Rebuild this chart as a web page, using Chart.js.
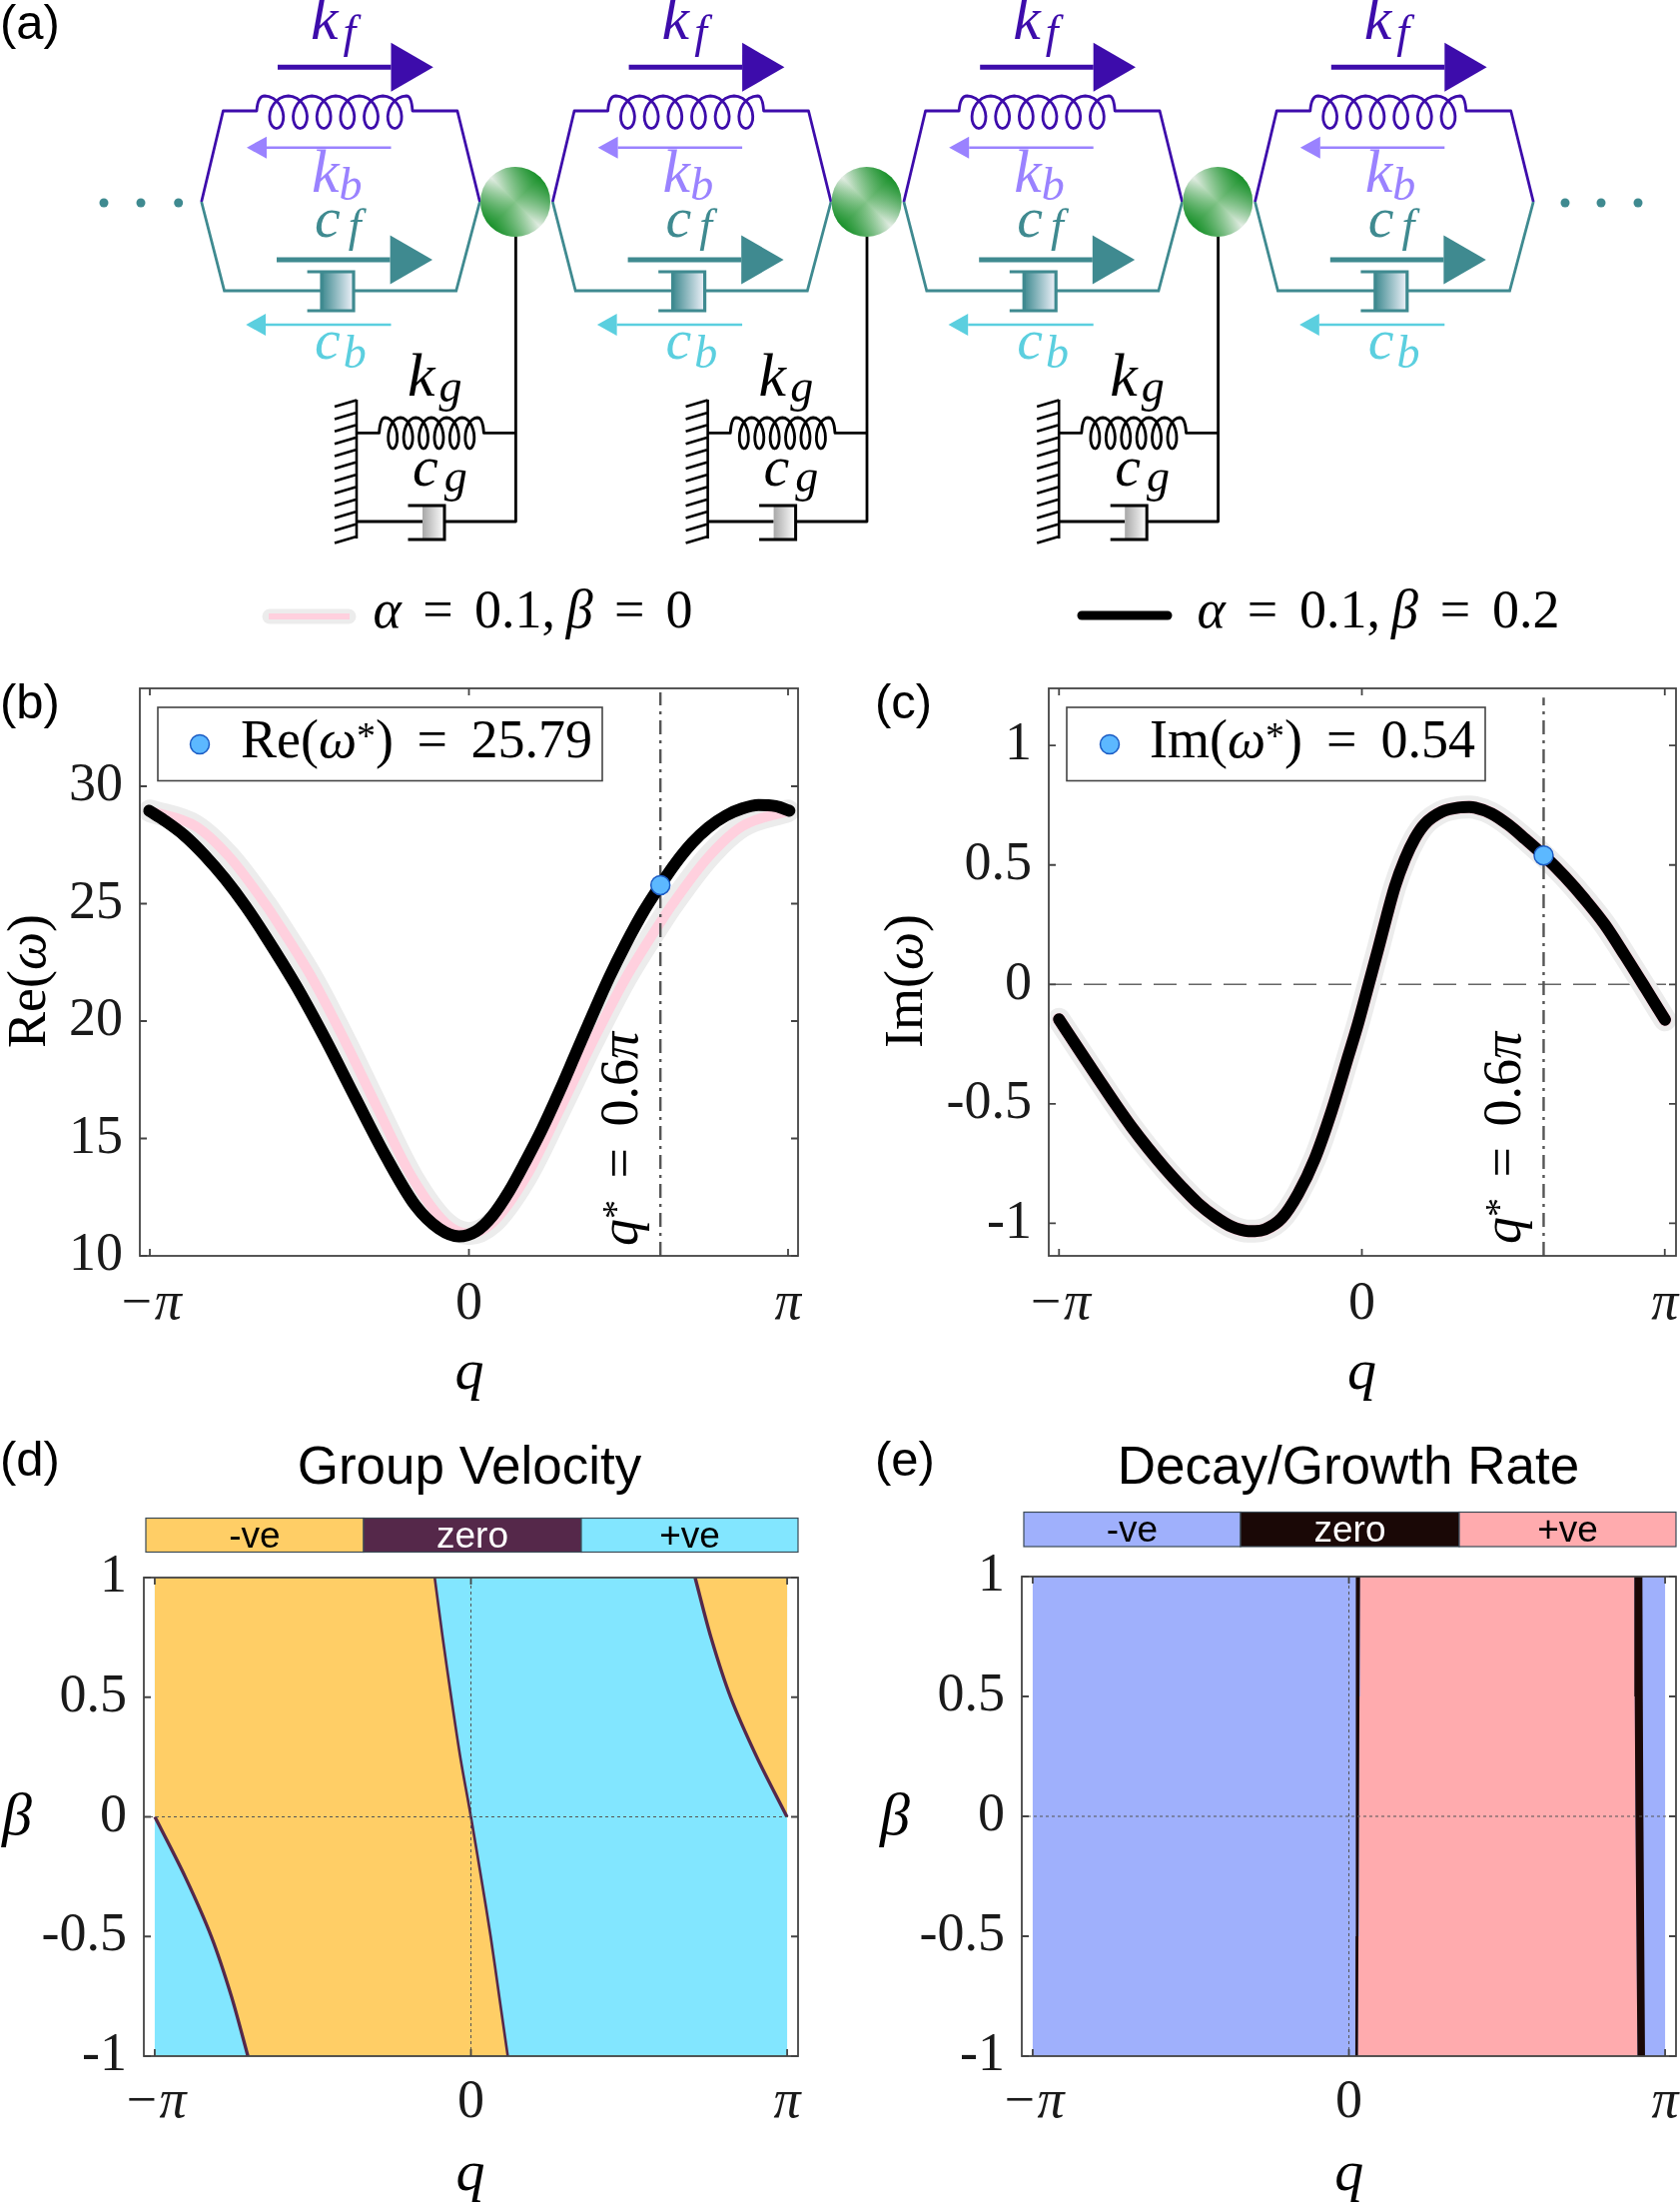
<!DOCTYPE html>
<html>
<head>
<meta charset="utf-8">
<title>Dispersion of a non-reciprocal chain</title>
<script src="https://cdn.jsdelivr.net/npm/chart.js@4/dist/chart.umd.js"></script>
<style>
  html, body { margin: 0; padding: 0; background: #fff; }
  #page { position: relative; width: 1682px; height: 2204px; overflow: hidden; }
  #page canvas { position: absolute; }
  #overlay { position: absolute; left: 0; top: 0; }
  .serif { font-family: "Liberation Serif", serif; }
  .sans { font-family: "Liberation Sans", sans-serif; }
  .it { font-style: italic; }
</style>
</head>
<body>
<div id="page"><svg id="overlay" width="1682" height="2204" xmlns="http://www.w3.org/2000/svg"></svg></div>
<script>
// values
const PI = 3.14159;
const qStar = 1.885;
const reStar = 25.79;
const imStar = 0.54;

const qTicks = [-PI, 0, PI];
const qTickLabels = ['\u2212\u03c0', '0', '\u03c0'];
const reTicks = [10, 15, 20, 25, 30];
const imTicks = [-1, -0.5, 0, 0.5, 1];
const betaTicks = [-1, -0.5, 0, 0.5, 1];

// Re(w), alpha = 0.1, beta = 0.2
const qRe = [-3.148, -3.0, -2.8, -2.6, -2.4, -2.2, -2.0, -1.705, -1.41, -1.115, -0.82, -0.525, -0.295, -0.098, 0.07, 0.23, 0.395, 0.56, 0.72, 0.89, 1.05, 1.215, 1.38, 1.54, 1.71, 1.885, 2.03, 2.2, 2.36, 2.53, 2.69, 2.85, 3.02, 3.155];
const reBlack = [28.96, 28.55, 27.9, 27.05, 26.05, 24.9, 23.6, 21.53, 19.2, 16.7, 14.25, 12.13, 11.16, 10.83, 11.05, 11.7, 12.75, 14.05, 15.4, 17.0, 18.6, 20.25, 21.85, 23.25, 24.6, 25.79, 26.7, 27.6, 28.25, 28.75, 29.05, 29.2, 29.15, 28.96];

// Re(w), alpha = 0.1, beta = 0
const qRePink = [-3.14, -2.69, -2.36, -2.0, -1.885, -1.54, -1.215, -0.89, -0.56, -0.23, 0, 0.23, 0.56, 0.89, 1.215, 1.54, 1.885, 2.0, 2.36, 2.69, 3.14];
const rePink = [28.95, 28.3, 27.0, 24.95, 24.2, 21.8, 19.1, 16.2, 13.35, 11.4, 10.95, 11.4, 13.35, 16.2, 19.1, 21.8, 24.2, 24.95, 27.0, 28.3, 28.95];

// Im(w), both curves lie on top of each other
const qIm = [-3.142, -2.907, -2.735, -2.56, -2.39, -2.215, -2.043, -1.87, -1.70, -1.524, -1.35, -1.178, -1.11, -1.005, -0.833, -0.66, -0.487, -0.314, -0.141, -0.037, 0.07, 0.17, 0.257, 0.343, 0.447, 0.55, 0.654, 0.827, 1.0, 1.114, 1.173, 1.345, 1.52, 1.69, 1.885, 2.107, 2.314, 2.52, 2.73, 2.94, 3.144];
const imValues = [-0.146, -0.29, -0.394, -0.499, -0.596, -0.687, -0.77, -0.847, -0.916, -0.972, -1.014, -1.032, -1.032, -1.025, -0.979, -0.875, -0.728, -0.53, -0.30, -0.16, 0, 0.15, 0.285, 0.41, 0.525, 0.612, 0.672, 0.722, 0.74, 0.742, 0.74, 0.715, 0.668, 0.61, 0.54, 0.45, 0.355, 0.25, 0.12, -0.015, -0.148];

// group velocity zero lines
const betaCentre = [-1, -0.75, -0.5, -0.25, 0, 0.25, 0.5, 0.75, 1];
const qCentreZero = [0.366, 0.281, 0.196, 0.10, 0, -0.106, -0.196, -0.281, -0.36];
const betaLower = [-1, -0.75, -0.5, -0.25, 0];
const qLowerZero = [-2.216, -2.38, -2.58, -2.84, -3.14];
const betaUpper = [0, 0.25, 0.5, 0.75, 1];
const qUpperZero = [3.14, 2.84, 2.58, 2.385, 2.227];

// decay/growth zero bands
const betaRate = [-1, -0.5, 0, 0.5, 1];
const qBandALeft = [0.064, 0.066, 0.069, 0.069, 0.069];
const qBandARight = [0.09, 0.095, 0.10, 0.105, 0.111];
const qBandBLeft = [2.867, 2.857, 2.847, 2.84, 2.836];
const qBandBRight = [2.942, 2.934, 2.926, 2.92, 2.916];

const velocityBar = ['-ve', 'zero', '+ve'];
const rateBar = ['-ve', 'zero', '+ve'];

const SERIF = '"Liberation Serif", serif';
const TICK_COLOR = '#1a1a1a';

const pts = (xs, ys) => xs.map((x, i) => ({ x: x, y: ys[i] }));
const rev = (a) => a.slice().reverse();

// boxed axes with inward ticks on all four sides
const framePlugin = {
  id: 'frame',
  afterDatasetsDraw(chart) {
    const { ctx, chartArea: a, scales } = chart;
    const len = 7;
    ctx.save();
    ctx.strokeStyle = '#444';
    ctx.lineWidth = 1.8;
    ctx.strokeRect(a.left, a.top, a.right - a.left, a.bottom - a.top);
    ctx.beginPath();
    scales.x.ticks.forEach((t) => {
      const px = scales.x.getPixelForValue(t.value);
      ctx.moveTo(px, a.bottom); ctx.lineTo(px, a.bottom - len);
      ctx.moveTo(px, a.top); ctx.lineTo(px, a.top + len);
    });
    scales.y.ticks.forEach((t) => {
      const py = scales.y.getPixelForValue(t.value);
      ctx.moveTo(a.left, py); ctx.lineTo(a.left + len, py);
      ctx.moveTo(a.right, py); ctx.lineTo(a.right - len, py);
    });
    ctx.stroke();
    ctx.restore();
  }
};

// the plot area has to land on box, so drop the room chart.js keeps for edge labels
function fixScale(s, side, size) {
  s[side] = size;
  s.paddingLeft = s.paddingRight = s.paddingTop = s.paddingBottom = 0;
}

function makePanel(box, xRange, yRange, yTicks, xLabelPad, datasets) {
  const marginL = 130, marginT = 40, marginR = 4, marginB = 80;
  const canvas = document.createElement('canvas');
  canvas.width = box.right - box.left + marginL + marginR;
  canvas.height = box.bottom - box.top + marginT + marginB;
  canvas.style.left = (box.left - marginL) + 'px';
  canvas.style.top = (box.top - marginT) + 'px';
  canvas.style.width = canvas.width + 'px';
  canvas.style.height = canvas.height + 'px';
  document.getElementById('page').insertBefore(canvas, document.getElementById('overlay'));

  // list order is bottom to top
  datasets.forEach((d, i) => {
    d.order = datasets.length - i;
    d.pointRadius = d.pointRadius || 0;
  });

  return new Chart(canvas.getContext('2d'), {
    type: 'line',
    data: { datasets: datasets },
    plugins: [framePlugin],
    options: {
      responsive: false,
      animation: false,
      layout: { autoPadding: false, padding: { top: marginT, right: marginR, left: 0, bottom: 0 } },
      plugins: { legend: { display: false }, tooltip: { enabled: false } },
      scales: {
        x: {
          type: 'linear',
          min: xRange[0],
          max: xRange[1],
          grid: { display: false },
          border: { display: false },
          afterBuildTicks: (s) => { s.ticks = qTicks.map((v) => ({ value: v })); },
          afterFit: (s) => fixScale(s, 'height', marginB),
          ticks: {
            autoSkip: false,
            maxRotation: 0,
            padding: xLabelPad,
            color: TICK_COLOR,
            callback: (v) => qTickLabels[qTicks.indexOf(v)],
            font: (c) => ({ family: SERIF, size: 54, style: c.tick && c.tick.value !== 0 ? 'italic' : 'normal' })
          }
        },
        y: {
          type: 'linear',
          min: yRange[0],
          max: yRange[1],
          grid: { display: false },
          border: { display: false },
          afterBuildTicks: (s) => { s.ticks = yTicks.map((v) => ({ value: v })); },
          afterFit: (s) => fixScale(s, 'width', marginL),
          ticks: {
            autoSkip: false,
            padding: 9,
            color: TICK_COLOR,
            callback: (v) => String(v),
            font: { family: SERIF, size: 54 }
          }
        }
      }
    }
  });
}

const lineSet = (data, color, width, extra) => Object.assign({
  data: data, borderColor: color, borderWidth: width, fill: false,
  borderCapStyle: 'round', borderJoinStyle: 'round'
}, extra || {});
const smooth = { cubicInterpolationMode: 'monotone' };
const areaSet = (data, color) => ({ data: data, fill: 'shape', backgroundColor: color, borderWidth: 0, borderColor: color });
const marker = (x, y) => ({
  data: [{ x: x, y: y }], showLine: false, pointRadius: 9.5,
  pointBackgroundColor: '#5cb8ff', pointBorderColor: '#1c5cc4', pointBorderWidth: 1.5
});

const boxB = { left: 140, right: 799, top: 689, bottom: 1257 };
const boxC = { left: 1050, right: 1678, top: 689, bottom: 1257 };
const boxD = { left: 144, right: 799, top: 1579, bottom: 2058 };
const boxE = { left: 1023, right: 1678, top: 1578, bottom: 2058 };

// (b)
makePanel(boxB, [-3.24, 3.24], [10, 34.17], reTicks, 8, [
  lineSet(pts(qRePink, rePink), '#ececec', 23, smooth),
  lineSet(pts(qRePink, rePink), '#ffd0de', 10, smooth),
  lineSet([{ x: qStar, y: 10 }, { x: qStar, y: 34 }], '#555', 2.4, { borderDash: [14, 6, 3, 6], borderCapStyle: 'butt' }),
  lineSet(pts(qRe, reBlack), '#000', 12, smooth),
  marker(qStar, reStar)
]);

// (c)
makePanel(boxC, [-3.248, 3.258], [-1.136, 1.239], imTicks, 8, [
  lineSet([{ x: -3.248, y: 0 }, { x: 3.258, y: 0 }], '#666', 1.6, { borderDash: [23, 12], borderCapStyle: 'butt' }),
  lineSet(pts(qIm, imValues), '#ececec', 23, smooth),
  lineSet(pts(qIm, imValues), '#ffd0de', 13, smooth),
  lineSet([{ x: qStar, y: -1.136 }, { x: qStar, y: 1.2 }], '#555', 2.4, { borderDash: [14, 6, 3, 6], borderCapStyle: 'butt' }),
  lineSet(pts(qIm, imValues), '#000', 12, smooth),
  marker(qStar, imStar)
]);

// (d) regions are drawn cyan, then orange on top
const orangeMain = pts(qLowerZero, betaLower)
  .concat([{ x: -PI, y: 1 }])
  .concat(pts(rev(qCentreZero), rev(betaCentre)));
const orangeUpper = pts(qUpperZero, betaUpper).concat([{ x: PI, y: 1 }]);
const cyanAll = [{ x: -PI, y: -1 }, { x: -PI, y: 1 }, { x: PI, y: 1 }, { x: PI, y: -1 }];

makePanel(boxD, [-3.25, 3.25], [-1, 1], betaTicks, 6, [
  areaSet(cyanAll, '#82e6ff'),
  areaSet(orangeMain, '#ffce66'),
  areaSet(orangeUpper, '#ffce66'),
  lineSet(pts(qCentreZero, betaCentre), '#55284a', 2.6, { tension: 0.3, borderCapStyle: 'butt' }),
  lineSet(pts(qLowerZero, betaLower), '#55284a', 3.4, { tension: 0.3, borderCapStyle: 'butt' }),
  lineSet(pts(qUpperZero, betaUpper), '#55284a', 3.4, { tension: 0.3, borderCapStyle: 'butt' }),
  lineSet([{ x: 0, y: -1 }, { x: 0, y: 1 }], '#555', 1, { borderDash: [3, 3], borderCapStyle: 'butt' }),
  lineSet([{ x: -3.25, y: 0 }, { x: 3.25, y: 0 }], '#555', 1, { borderDash: [3, 3], borderCapStyle: 'butt' })
]);

// (e)
const blueAll = cyanAll;
const pinkMiddle = pts(qBandARight, betaRate).concat(pts(rev(qBandBLeft), rev(betaRate)));
const bandA = pts(qBandALeft, betaRate).concat(pts(rev(qBandARight), rev(betaRate)));
const bandB = pts(qBandBLeft, betaRate).concat(pts(rev(qBandBRight), rev(betaRate)));

makePanel(boxE, [-3.25, 3.25], [-1, 1], betaTicks, 6, [
  areaSet(blueAll, '#9fb0fc'),
  areaSet(pinkMiddle, '#ffabae'),
  areaSet(bandA, '#1a0806'),
  areaSet(bandB, '#1a0806'),
  lineSet([{ x: 0, y: -1 }, { x: 0, y: 1 }], '#555', 1, { borderDash: [3, 3], borderCapStyle: 'butt' }),
  lineSet([{ x: -3.25, y: 0 }, { x: 3.25, y: 0 }], '#555', 1, { borderDash: [3, 3], borderCapStyle: 'butt' })
]);

// ---- overlay: schematic and the math labels
function springPath(x0, x1, first, last, coils, yLine, yTop, yBot) {
  const yc = (yTop + yBot) / 2, ry = (yBot - yTop) / 2;
  const pitch = (last - first) / coils;
  const rx = pitch * 0.52;
  let d = 'L' + x0 + ' ' + yLine + ' Q' + (x0 + 1) + ' ' + yTop + ' ' + first + ' ' + yTop;
  const steps = coils * 24;
  for (let i = 0; i <= steps; i++) {
    const t = i / steps * coils * 2 * Math.PI;
    const x = first + pitch * t / (2 * Math.PI) + rx * Math.sin(t);
    const y = yc - ry * Math.cos(t);
    d += ' L' + x.toFixed(1) + ' ' + y.toFixed(1);
  }
  d += ' Q' + (x1 - 1) + ' ' + yTop + ' ' + x1 + ' ' + yLine;
  return d;
}

function arrow(x0, tip, base, y, half, width, color) {
  return '<line x1="' + x0 + '" y1="' + y + '" x2="' + base + '" y2="' + y + '" stroke="' + color + '" stroke-width="' + width + '"/>' +
    '<polygon points="' + base + ',' + (y - half) + ' ' + tip + ',' + y + ' ' + base + ',' + (y + half) + '" fill="' + color + '"/>';
}

function symbol(x, y, letter, sub, color, size, subSize, subDx, subDy) {
  return '<text class="serif it" x="' + x + '" y="' + y + '" font-size="' + size + '" fill="' + color + '">' + letter +
    '<tspan dx="' + subDx + '" dy="' + subDy + '" font-size="' + subSize + '">' + sub + '</tspan></text>';
}

const FWD = '#3d0cab', BACK = '#9a82ff', DAMP = '#3f8a90', DAMPB = '#5bcfdf';
let svg = '<defs>' +
  '<linearGradient id="ballA" x1="0.1" y1="0.1" x2="0.9" y2="0.9"><stop offset="0" stop-color="#f4f4f4"/><stop offset="0.5" stop-color="#85c58b"/><stop offset="1" stop-color="#f4f4f4"/></linearGradient>' +
  '<linearGradient id="ballB" x1="0.1" y1="0.9" x2="0.9" y2="0.1"><stop offset="0" stop-color="#0b8a1e"/><stop offset="0.5" stop-color="#0b8a1e" stop-opacity="0"/><stop offset="1" stop-color="#0b8a1e"/></linearGradient>' +
  '<linearGradient id="pistonA"><stop offset="0" stop-color="#3f8a90"/><stop offset="1" stop-color="#f0f2fa"/></linearGradient>' +
  '<linearGradient id="pistonB"><stop offset="0" stop-color="#a8a8a8"/><stop offset="1" stop-color="#fff"/></linearGradient>' +
  '</defs>';

const unitStep = 351.6;
for (let u = 0; u < 4; u++) {
  const dx = u * unitStep;
  svg += '<g transform="translate(' + dx + ' 0)">';
  // spring branch
  svg += '<path fill="none" stroke="' + FWD + '" stroke-width="2.8" stroke-linejoin="round" d="M201.7 202 L223.4 111 ' +
    springPath(257, 413, 265, 407, 6, 111, 96, 128.5) + ' L457.9 111 L480.4 202"/>';
  // damper branch
  svg += '<path fill="none" stroke="' + DAMP + '" stroke-width="2.8" d="M201.7 202 L224.6 291 L322 291 M354 291 L456.7 291 L480.4 202"/>';
  svg += '<rect x="322" y="272" width="32" height="39" fill="url(#pistonA)"/>';
  svg += '<path fill="none" stroke="' + DAMP + '" stroke-width="3.2" d="M307.6 272 L354 272 L354 311 L307.6 311 M322 272 L322 311"/>';
  // arrows
  svg += arrow(278, 433.8, 391.5, 67.3, 24.5, 5, FWD);
  svg += arrow(391.5, 247, 267, 147.7, 11, 2.4, BACK);
  svg += arrow(277, 433, 390.6, 260, 24.5, 5, DAMP);
  svg += arrow(391.5, 246.3, 266, 325, 11, 2.4, DAMPB);
  // labels
  svg += symbol(311, 39, 'k', 'f', FWD, 62, 46, 5, 8);
  svg += symbol(312, 192, 'k', 'b', BACK, 62, 46, 0, 8);
  svg += symbol(315, 237, 'c', 'f', DAMP, 58, 46, 8, 4);
  svg += symbol(315, 359, 'c', 'b', DAMPB, 58, 46, 3, 9);
  if (u < 3) {
    // ground spring and damper
    svg += '<path fill="none" stroke="#000" stroke-width="2.8" stroke-linejoin="round" d="M516.4 236 L516.4 522 L445 522 M423 522 L357 522 M357 433.3 ' +
      springPath(379.6, 484.4, 385.5, 478, 6, 433.3, 418, 449) + ' L516.4 433.3"/>';
    svg += '<rect x="423" y="506" width="22" height="34" fill="url(#pistonB)"/>';
    svg += '<path fill="none" stroke="#000" stroke-width="3" d="M408.5 506 L445 506 L445 540 L408.5 540"/>';
    let hatch = 'M357 400 L357 539';
    for (let h = 0; h < 12; h++) {
      const y = 400.5 + h * 12.4;
      hatch += ' M357 ' + y + ' L335 ' + (y + 6.5);
    }
    svg += '<path fill="none" stroke="#000" stroke-width="2.6" d="' + hatch + '"/>';
    svg += symbol(408, 396, 'k', 'g', '#000', 62, 46, 4, 6);
    svg += symbol(413, 485.5, 'c', 'g', '#000', 58, 46, 6, 6);
    // mass
    svg += '<circle cx="516" cy="202" r="35" fill="url(#ballA)"/><circle cx="516" cy="202" r="35" fill="url(#ballB)"/>';
  }
  svg += '</g>';
}
[104, 141, 178.7, 1567, 1603, 1640].forEach((x) => {
  svg += '<circle cx="' + x + '" cy="203" r="4.5" fill="' + DAMP + '"/>';
});

// data-len: spaces are stretched until the text has that length
const fitted = (attrs, len, inner) => '<text class="serif fit" data-len="' + len + '" ' + attrs + '>' + inner + '</text>';

// legend strip above the plots
svg += '<line x1="270" y1="617" x2="349" y2="617" stroke="#ececec" stroke-width="15" stroke-linecap="round"/>';
svg += '<line x1="269" y1="617" x2="350" y2="617" stroke="#ffd0de" stroke-width="6"/>';
svg += fitted('x="373.6" y="628" font-size="54"', 320, '<tspan class="it">\u03b1</tspan> = 0.1,\u2009<tspan class="it">\u03b2</tspan> = 0');
svg += '<line x1="1083" y1="616" x2="1169" y2="616" stroke="#000" stroke-width="9" stroke-linecap="round"/>';
svg += fitted('x="1198.5" y="628" font-size="54"', 363, '<tspan class="it">\u03b1</tspan> = 0.1,\u2009<tspan class="it">\u03b2</tspan> = 0.2');

// boxed legends inside (b) and (c)
function starLegend(left, right, markerX, textX, textLen, head, value) {
  return '<rect x="' + left + '" y="708" width="' + (right - left) + '" height="73.5" fill="#fff" stroke="#444" stroke-width="1.6"/>' +
    '<circle cx="' + markerX + '" cy="745" r="9.5" fill="#5cb8ff" stroke="#1c5cc4" stroke-width="1.5"/>' +
    fitted('x="' + textX + '" y="758" font-size="54"', textLen, head + '(<tspan class="it">\u03c9</tspan><tspan dy="-9" font-size="38">*</tspan><tspan dy="9">)</tspan> = ' + value);
}
svg += starLegend(158, 603, 200, 241, 352, 'Re', '25.79');
svg += starLegend(1068, 1487, 1111, 1151, 326, 'Im', '0.54');

// rotated labels
function rotated(x, y, inner, len) {
  return fitted('transform="rotate(-90 ' + x + ' ' + y + ')" x="' + x + '" y="' + y + '" font-size="54"', len, inner);
}
const omegaLabel = (head) => head + '(<tspan class="it">\u03c9</tspan>)';
svg += rotated(45, 1049, omegaLabel('Re'), 146);
svg += rotated(923, 1049, omegaLabel('Im'), 146);
const qStarLabel = '<tspan class="it">q</tspan><tspan dy="-9" font-size="38">*</tspan><tspan dy="9"> = 0.6</tspan><tspan class="it">\u03c0</tspan>';
svg += rotated(638, 1247, qStarLabel, 214);
svg += rotated(1522, 1245, qStarLabel, 212);

// axis letters
[[470, 1390], [1363.6, 1390], [471, 2192], [1350.7, 2192]].forEach((p) => {
  svg += '<text class="serif it" x="' + p[0] + '" y="' + p[1] + '" font-size="58" text-anchor="middle">q</text>';
});
svg += '<text class="serif it" x="2" y="1836" font-size="60">\u03b2</text>';
svg += '<text class="serif it" x="881" y="1836" font-size="60">\u03b2</text>';

// panel letters and titles
[['(a)', 0, 39], ['(b)', 0, 719], ['(c)', 876, 719], ['(d)', 0, 1477], ['(e)', 876, 1477]].forEach((p) => {
  svg += '<text class="sans" x="' + p[1] + '" y="' + p[2] + '" font-size="49">' + p[0] + '</text>';
});
svg += '<text class="sans" x="470" y="1485" font-size="53" text-anchor="middle">Group Velocity</text>';
svg += '<text class="sans" x="1350" y="1485" font-size="53" text-anchor="middle">Decay/Growth Rate</text>';

// category strips above (d) and (e)
function strip(left, split1, split2, right, top, bottom, colors, labels, textColors, baseline) {
  const xs = [left, split1, split2, right];
  let s = '';
  for (let i = 0; i < 3; i++) {
    s += '<rect x="' + xs[i] + '" y="' + top + '" width="' + (xs[i + 1] - xs[i]) + '" height="' + (bottom - top) + '" fill="' + colors[i] + '" stroke="#3a4a55" stroke-width="1.2"/>';
    s += '<text class="sans" x="' + (xs[i] + xs[i + 1]) / 2 + '" y="' + baseline + '" font-size="37" text-anchor="middle" fill="' + textColors[i] + '">' + labels[i] + '</text>';
  }
  return s;
}
svg += strip(146, 364, 582, 799, 1519.5, 1553.5, ['#ffce66', '#55284a', '#82e6ff'], velocityBar, ['#000', '#fff', '#000'], 1549);
svg += strip(1025, 1242, 1461, 1678, 1513.5, 1548, ['#9fb0fc', '#1a0806', '#ffabae'], rateBar, ['#000', '#fff', '#000'], 1543);

document.getElementById('overlay').innerHTML = svg;

document.querySelectorAll('#overlay .fit').forEach((t) => {
  const spaces = (t.textContent.match(/ /g) || []).length;
  const extra = (Number(t.dataset.len) - t.getComputedTextLength()) / spaces;
  t.style.wordSpacing = extra + 'px';
});
</script>
</body>
</html>
